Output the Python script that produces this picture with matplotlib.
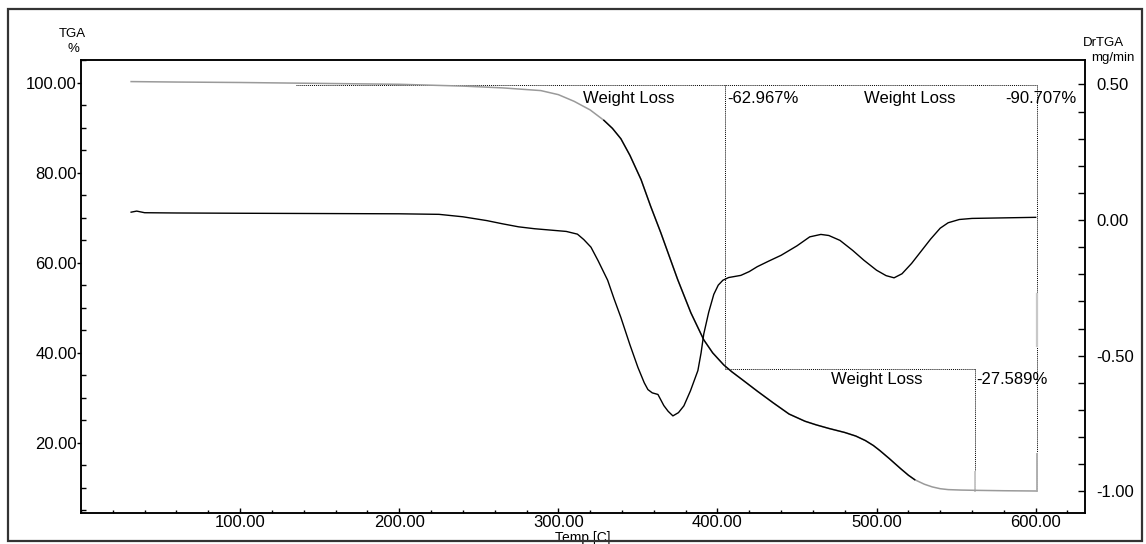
import matplotlib
matplotlib.use("Agg")
import matplotlib.pyplot as plt
from matplotlib.ticker import MultipleLocator, FormatStrFormatter
from matplotlib.patches import Rectangle
import numpy as np

plt.rcParams['font.family'] = ['Liberation Sans', 'DejaVu Sans']

# TGA curve, weight %
tga_temp = [31.5, 60, 100, 150, 200, 240, 265, 289, 300, 310, 320, 328.6, 334,
            339.3, 345, 352, 358, 364.4, 370, 375, 383.3, 391.4, 397, 404, 409,
            415, 425, 435, 445, 455, 462, 470, 480, 487, 493, 498, 502, 508,
            515, 520, 524, 530, 535, 540, 545, 553, 562, 580, 600]
tga_pct = [100.3, 100.2, 100.1, 99.9, 99.7, 99.3, 98.9, 98.3, 97.4, 95.9, 94.0,
           91.7, 89.9, 87.6, 83.9, 78.5, 72.6, 66.7, 61.2, 56.3, 48.9, 42.9, 40.0,
           37.3, 35.8, 34.2, 31.5, 28.9, 26.4, 24.8, 24.0, 23.2, 22.3, 21.5, 20.5,
           19.4, 18.3, 16.5, 14.3, 12.8, 11.8, 10.8, 10.2, 9.8, 9.6, 9.5, 9.44,
           9.35, 9.29]

# DrTGA curve, mg/min
dtg_temp = [31.5, 35, 40, 60, 100, 150, 200, 225, 240, 255, 265, 275, 285, 295,
            305, 312, 316, 320.5, 325, 331, 335, 339.3, 345, 350, 354, 356.3, 359,
            362.6, 366.3, 369, 372, 375.5, 378.9, 383, 387.7, 389.7, 391.4, 394.5,
            397.7, 400.5, 403.4, 407, 414.7, 420, 425, 432, 440, 450, 458, 465,
            470, 477, 485, 492, 500, 506, 511, 516, 522, 528, 534, 540, 545, 552,
            560, 580, 600]
dtg_val = [0.029, 0.033, 0.027, 0.026, 0.025, 0.024, 0.023, 0.021, 0.012, -0.002,
           -0.014, -0.025, -0.032, -0.037, -0.042, -0.052, -0.072, -0.10, -0.15,
           -0.222, -0.29, -0.359, -0.46, -0.543, -0.60, -0.625, -0.637, -0.643,
           -0.684, -0.705, -0.722, -0.71, -0.685, -0.63, -0.555, -0.49, -0.42,
           -0.34, -0.274, -0.24, -0.222, -0.212, -0.204, -0.19, -0.172, -0.152,
           -0.13, -0.095, -0.062, -0.053, -0.057, -0.075, -0.112, -0.148, -0.185,
           -0.205, -0.213, -0.198, -0.16, -0.115, -0.07, -0.03, -0.01, 0.002,
           0.006, 0.008, 0.01]

# weight loss analysis
step_temps = [405, 562, 601]
step_levels = [99.5, 36.3, 9.44, 9.29]
loss_labels = ['-62.967%', '-90.707%', '-27.589%']

W, H = 1146, 544
fig = plt.figure(figsize=(W / 100, H / 100), dpi=100)
ax = fig.add_axes([81 / W, 1 - 513 / H, 1004 / W, 453 / H])
ax2 = ax.twinx()

t = np.array(tga_temp)
p = np.array(tga_pct)
ax.plot(t, p, color='#9a9a9a', lw=1.1, zorder=3)
dark = (t >= 328) & (t <= 524)
ax.plot(t[dark], p[dark], color='black', lw=1.0, zorder=4)
ax2.plot(dtg_temp, dtg_val, color='black', lw=1.0)

dot = dict(color='black', lw=0.7, ls=(0, (1, 1)))
ax.plot([135, step_temps[2]], [step_levels[0], step_levels[0]], **dot)
ax.plot([step_temps[0], step_temps[0]], [step_levels[0], step_levels[1]], **dot)
ax.plot([step_temps[0], step_temps[1]], [step_levels[1], step_levels[1]], **dot)
ax.plot([step_temps[1], step_temps[1]], [step_levels[1], step_levels[2]], **dot)
ax.plot([step_temps[2], step_temps[2]], [step_levels[0], step_levels[3]], **dot)
# faint solid marks left on the verticals
ax.plot([step_temps[2], step_temps[2]], [41.5, 53.0], color='#c8c8c8', lw=1.6)
ax.plot([step_temps[2], step_temps[2]], [9.3, 17.5], color='#b0b0b0', lw=1.4)
ax.plot([step_temps[1], step_temps[1]], [9.4, 13.5], color='#c8c8c8', lw=1.4)

fs = 12
ax.text(344.5, 96.6, 'Weight Loss', fontsize=fs, ha='center', va='center')
ax.text(406, 96.6, loss_labels[0], fontsize=fs, ha='left', va='center')
ax.text(521, 96.6, 'Weight Loss', fontsize=fs, ha='center', va='center')
ax.text(581, 96.6, loss_labels[1], fontsize=fs, ha='left', va='center')
ax.text(500, 34.0, 'Weight Loss', fontsize=fs, ha='center', va='center')
ax.text(562.5, 34.0, loss_labels[2], fontsize=fs, ha='left', va='center')

ax.set_xlim(0, 631)
ax.set_ylim(4.4, 105.1)
ax2.set_ylim(-1.08, 0.59)

ax.xaxis.set_major_locator(MultipleLocator(100))
ax.xaxis.set_minor_locator(MultipleLocator(20))
ax.yaxis.set_major_locator(MultipleLocator(20))
ax.yaxis.set_minor_locator(MultipleLocator(5))
ax2.yaxis.set_major_locator(MultipleLocator(0.5))
ax2.yaxis.set_minor_locator(MultipleLocator(0.1))
ax.xaxis.set_major_formatter(FormatStrFormatter('%.2f'))
ax.yaxis.set_major_formatter(FormatStrFormatter('%.2f'))
ax2.yaxis.set_major_formatter(FormatStrFormatter('%.2f'))

ax.set_xticks([100, 200, 300, 400, 500, 600])
ax.tick_params(axis='x', which='major', direction='in', length=3.5, width=1,
               labelsize=fs, pad=1.5)
ax.tick_params(axis='x', which='minor', direction='in', length=2.5, width=1)
ax.tick_params(axis='y', which='major', direction='out', length=3, width=1,
               labelsize=fs, pad=0)
ax.tick_params(axis='y', which='minor', direction='in', length=3.5, width=1)
ax2.tick_params(axis='y', which='major', direction='in', length=5, width=1,
                labelsize=fs, pad=8)
ax2.tick_params(axis='y', which='minor', direction='in', length=5, width=1)
ax.set_yticks([20, 40, 60, 80, 100])

for a in (ax, ax2):
    for s in a.spines.values():
        s.set_linewidth(1.1)

fig.text(72.5 / W, 1 - 34 / H, 'TGA', fontsize=9.5, ha='center', va='center')
fig.text(73.5 / W, 1 - 49 / H, '%', fontsize=9.5, ha='center', va='center')
fig.text(1103 / W, 1 - 43 / H, 'DrTGA', fontsize=9.5, ha='center', va='center')
fig.text(1113 / W, 1 - 58 / H, 'mg/min', fontsize=9.5, ha='center', va='center')
fig.text(583 / W, 1 - 538 / H, 'Temp [C]', fontsize=10, ha='center', va='center')

fig.patches.append(Rectangle((8 / W, 1 - 541 / H), 1134 / W, 532 / H,
                             transform=fig.transFigure, fill=False,
                             edgecolor='#333333', lw=1.6, zorder=10))

fig.savefig('out.png', dpi=100)
